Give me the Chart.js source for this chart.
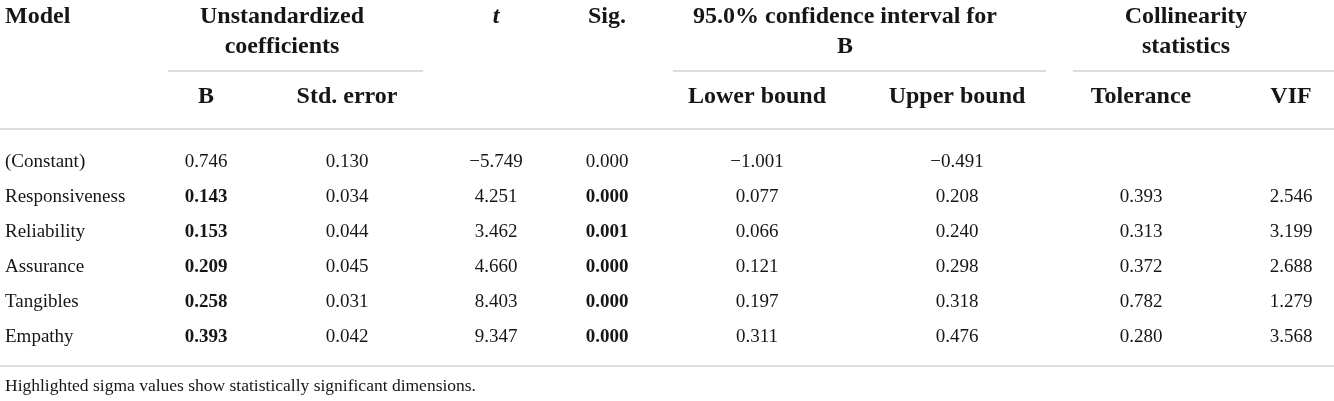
<!DOCTYPE html>
<html>
<head>
<meta charset="utf-8">
<script src="https://cdn.jsdelivr.net/npm/chart.js@4/dist/chart.umd.min.js"></script>
<style>
    html, body { margin: 0; padding: 0; background: #fff; }
    #wrap { width: 1334px; height: 401px; position: relative; }
</style>
</head>
<body>
<div id="wrap"><canvas id="myChart"></canvas></div>
<script>
(() => {
    'use strict';

    // Table data
    const models = ['(Constant)', 'Responsiveness', 'Reliability', 'Assurance', 'Tangibles', 'Empathy'];
    const coefB = [0.746, 0.143, 0.153, 0.209, 0.258, 0.393];
    const stdError = [0.130, 0.034, 0.044, 0.045, 0.031, 0.042];
    const tValues = [-5.749, 4.251, 3.462, 4.660, 8.403, 9.347];
    const sigValues = [0.000, 0.000, 0.001, 0.000, 0.000, 0.000];
    const lowerBound = [-1.001, 0.077, 0.066, 0.121, 0.197, 0.311];
    const upperBound = [-0.491, 0.208, 0.240, 0.298, 0.318, 0.476];
    const tolerance = [null, 0.393, 0.313, 0.372, 0.782, 0.280];
    const vif = [null, 2.546, 3.199, 2.688, 1.279, 3.568];
    const highlighted = [false, true, true, true, true, true];
    const footnote = 'Highlighted sigma values show statistically significant dimensions.';

    // Layout (column centres in px along the linear x scale)
    const columns = [
        { head: 'B', values: coefB, x: 206, bold: true },
        { head: 'Std. error', values: stdError, x: 347 },
        { head: 't', values: tValues, x: 496, italic: true, row: 1 },
        { head: 'Sig.', values: sigValues, x: 607, bold: true, row: 1 },
        { head: 'Lower bound', values: lowerBound, x: 757 },
        { head: 'Upper bound', values: upperBound, x: 957 },
        { head: 'Tolerance', values: tolerance, x: 1141 },
        { head: 'VIF', values: vif, x: 1291 }
    ];
    const groups = [
        { lines: ['Unstandardized', 'coefficients'], x: 282, from: 168, to: 423 },
        { lines: ['95.0% confidence interval for', 'B'], x: 845, from: 673, to: 1046 },
        { lines: ['Collinearity', 'statistics'], x: 1186, from: 1073, to: 1334 }
    ];

    const SERIF = '"Liberation Serif", "DejaVu Serif", serif';
    const INK = '#161616';
    const RULE = '#d2d2d2';
    const HEAD = 'bold 24px ' + SERIF;

    const fmt = v => v.toFixed(3).replace('-', '\u2212');

    const tablePlugin = {
        id: 'tableText',
        afterDatasetsDraw(chart) {
            const ctx = chart.ctx;
            const x = chart.scales.x;
            const y = chart.scales.y;
            ctx.save();
            ctx.fillStyle = INK;
            ctx.textBaseline = 'alphabetic';

            // header rows
            ctx.font = HEAD;
            ctx.textAlign = 'left';
            ctx.fillText('Model', x.getPixelForValue(5), 22.5);
            ctx.textAlign = 'center';
            columns.forEach(c => {
                ctx.font = (c.italic ? 'italic ' : '') + HEAD;
                ctx.fillText(c.head, x.getPixelForValue(c.x), c.row === 1 ? 22.5 : 103);
            });
            ctx.font = HEAD;
            groups.forEach(g => {
                g.lines.forEach((l, i) => ctx.fillText(l, x.getPixelForValue(g.x), 22.5 + i * 30));
            });

            // rules
            ctx.strokeStyle = RULE;
            ctx.lineWidth = 1.5;
            const rule = (a, b, yy) => {
                ctx.beginPath();
                ctx.moveTo(x.getPixelForValue(a), yy);
                ctx.lineTo(x.getPixelForValue(b), yy);
                ctx.stroke();
            };
            groups.forEach(g => rule(g.from, g.to, 71));
            rule(0, 1334, 129);
            rule(0, 1334, 366);

            // row labels
            ctx.font = '19px ' + SERIF;
            ctx.textAlign = 'left';
            models.forEach((m, i) => ctx.fillText(m, x.getPixelForValue(5), y.getPixelForValue(i) + 6.5));

            // cells
            ctx.textAlign = 'center';
            chart.data.datasets.forEach((ds, di) => {
                const col = columns[di];
                chart.getDatasetMeta(di).data.forEach((pt, i) => {
                    const v = col.values[i];
                    if (v === null) return;
                    ctx.font = (col.bold && highlighted[i] ? 'bold ' : '') + '19px ' + SERIF;
                    ctx.fillText(fmt(v), pt.x, pt.y + 6.5);
                });
            });

            // footnote
            ctx.font = '17.5px ' + SERIF;
            ctx.textAlign = 'left';
            ctx.fillText(footnote, x.getPixelForValue(5), 391);
            ctx.restore();
        }
    };

    const ctx = document.getElementById('myChart').getContext('2d');
    // eslint-disable-next-line no-unused-vars
    const myChart = new Chart(ctx, {
        type: 'scatter',
        data: {
            datasets: columns.map(c => ({
                label: c.head,
                data: models.map(m => ({ x: c.x, y: m })),
                pointRadius: 0,
                pointHoverRadius: 0
            }))
        },
        options: {
            responsive: true,
            maintainAspectRatio: false,
            animation: false,
            events: [],
            layout: {
                padding: { top: 142.5, bottom: 48.5, left: 0, right: 0 }
            },
            scales: {
                x: { type: 'linear', min: 0, max: 1334, display: false },
                y: { type: 'category', labels: models, offset: true, display: false }
            },
            plugins: {
                legend: { display: false },
                tooltip: { enabled: false }
            }
        },
        plugins: [tablePlugin]
    });
})();
</script>
</body>
</html>
